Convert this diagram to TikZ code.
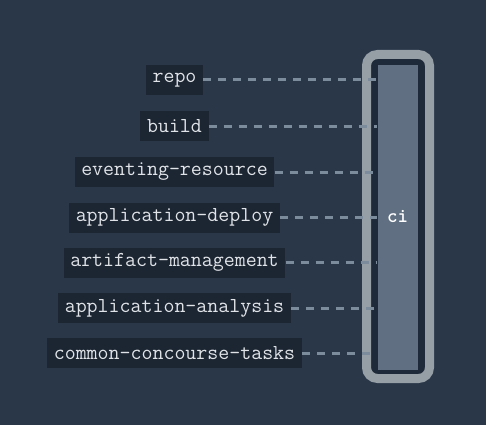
\documentclass[tikz,border=0pt]{standalone}
\usepackage{fontspec}
\newfontfamily\cifont{Latin Modern Mono Light}
\definecolor{bgc}{RGB}{41,55,73}
\definecolor{boxc}{RGB}{28,38,51}
\definecolor{txtc}{RGB}{224,227,231}
\definecolor{dashc}{RGB}{125,140,156}
\definecolor{rimc}{RGB}{150,158,166}
\definecolor{framec}{RGB}{30,42,57}
\definecolor{cifill}{RGB}{96,112,130}
\tikzset{
  repobox/.style={fill=boxc, text=txtc, font=\ttfamily\fontsize{21.3}{23}\selectfont,
    inner xsep=6.7pt, inner ysep=0pt, minimum height=30pt, anchor=center},
  link/.style={draw=dashc, line width=3pt, dash pattern=on 8pt off 7pt},
}
\begin{document}
\begin{tikzpicture}[x=1pt,y=-1pt]
\fill[bgc] (0,0) rectangle (486,425);
\useasboundingbox (0,0) rectangle (486,425);
% ci container
\draw[draw=rimc, line width=9pt, fill=framec, rounded corners=11pt] (366.5,54.5) rectangle (429.5,378.5);
\node[fill=cifill, draw=framec, line width=1pt, minimum width=41pt, minimum height=305pt, inner sep=0pt] (ci) at (397.5,217.5) {};
\node[text=white, font=\cifont\bfseries\fontsize{20}{22}\selectfont] (cilabel) at (397.5,216) {ci};
% repos
\node[repobox] (r1) at (174.5,80) {repo};
\node[repobox] (r2) at (174.5,126) {build};
\node[repobox] (r3) at (174.5,172) {eventing-resource};
\node[repobox] (r4) at (174.5,217.5) {application-deploy};
\node[repobox] (r5) at (174.5,262.5) {artifact-management};
\node[repobox] (r6) at (174.5,308) {application-analysis};
\node[repobox] (r7) at (174.5,353) {common-concourse-tasks};
\foreach \n in {r1,r2,r3,r4,r5,r6,r7}{
  \draw[link] (\n.east) -- (ci.west |- \n.east);
}
\end{tikzpicture}
\end{document}
